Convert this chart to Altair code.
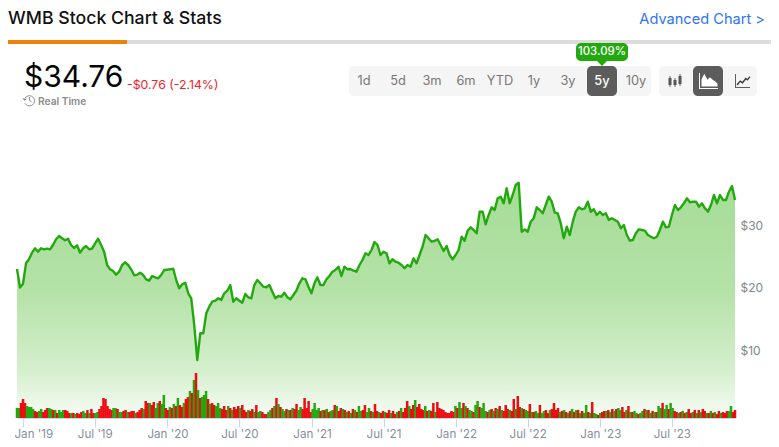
import altair as alt
import pandas as pd

FONT = "Inter"
GREEN = "#22a90e"
RED = "#f00a12"

prices = [
22.96,20.00,20.60,23.87,24.51,25.57,26.27,25.73,26.27,26.11,26.21,26.11,26.80,27.71,28.24,27.87,27.55,27.81,26.80,26.32,
26.75,25.57,26.27,26.64,26.11,26.21,27.07,27.81,26.80,25.73,23.60,22.91,22.64,22.05,22.53,23.60,24.03,23.60,22.91,21.95,
22.05,22.37,22.00,21.31,21.09,21.84,21.63,21.47,22.00,22.80,22.85,22.91,23.01,21.20,19.87,20.51,20.77,19.07,18.27,14.00,
8.40,12.67,12.67,15.87,16.93,17.73,17.89,18.27,18.00,19.07,19.49,20.40,17.73,18.27,17.89,17.57,18.96,18.43,18.27,20.40,
21.20,20.67,20.13,20.03,20.40,19.33,18.27,18.64,18.53,19.17,18.43,18.11,18.80,19.49,20.67,21.47,21.31,20.13,19.07,20.67,
21.63,20.40,20.40,21.31,21.84,22.53,22.80,23.33,21.84,23.33,22.91,22.96,22.69,22.53,23.60,24.40,25.47,25.20,26.00,27.28,
26.80,25.20,25.73,25.47,23.87,24.51,24.13,23.97,23.60,23.07,23.60,23.33,24.67,23.87,25.20,26.53,28.40,27.87,27.33,27.44,
27.71,26.80,25.84,26.64,25.20,24.51,25.20,26.00,28.13,27.49,29.09,29.63,29.20,28.67,32.13,32.13,30.11,31.60,32.83,32.40,
34.27,34.53,33.47,35.87,33.47,34.80,36.40,36.77,28.93,29.30,28.93,30.53,31.07,32.83,32.40,31.87,33.20,34.53,33.73,31.97,
31.87,30.27,27.87,29.73,28.40,30.53,32.13,32.83,32.51,32.67,33.73,32.13,32.51,31.60,32.13,31.60,31.87,30.80,31.07,30.80,
30.53,29.47,30.00,28.40,27.49,27.60,28.67,29.31,29.20,29.09,28.40,28.13,27.87,28.13,29.20,30.53,29.63,29.73,31.60,33.20,
32.40,32.83,33.47,34.27,33.63,33.73,33.73,32.93,33.47,32.67,32.13,33.20,34.80,33.47,34.80,34.00,34.00,35.33,36.24,34.00,
]

# shares traded in millions; a negative number marks a down day (red bar)
signed_volume = [
10,10,-15,-19,-15,12,11,11,9,-7,-6,7,9,-6,-8,-10,10,9,-8,8,-5,8,6,8,-8,-7,-5,5,-5,4,-5,-4,-6,7,5,-8,5,-9,
-5,5,6,-9,-12,-20,-19,-12,-9,-8,10,10,-9,6,6,-7,-8,6,-6,-7,-7,5,-6,-8,-10,9,-17,-15,15,-13,-16,10,15,-17,14,23,
-10,-8,11,-10,14,-12,20,-13,-11,15,-19,-21,27,-25,38,-45,28,-20,21,23,27,-19,14,-15,-13,12,15,10,-9,-12,-8,12,-10,8,-11,-9,
-12,10,-13,-8,-6,8,-7,-9,6,-13,6,7,-6,-4,-4,6,8,-10,12,-20,14,-11,9,7,-9,8,-8,10,-9,-14,8,11,-9,-20,-10,-17,
-6,9,15,8,10,-7,8,-8,9,-6,7,8,-13,12,-7,-10,9,-8,6,-7,5,-9,8,-6,12,7,-8,-13,6,10,-7,6,-14,-7,6,-5,
-7,6,-5,-8,5,-7,-4,6,-7,10,-6,-10,-17,12,-9,-13,18,-11,-14,-9,-8,12,-7,8,-7,-15,6,-16,-10,-9,-8,-6,-5,-5,-7,-6,
12,-10,16,10,-15,12,-10,8,7,-6,13,17,-11,10,15,7,-6,8,-9,7,-10,9,-12,8,-7,-13,-9,8,-7,-19,9,-22,-11,10,-9,8,
7,-14,6,-6,7,5,-13,5,7,-8,-5,8,-9,-15,-8,-10,6,-7,8,-6,5,-7,9,-6,8,-8,5,-7,5,13,-6,5,-16,5,4,-3,
5,-6,-7,7,-8,6,-9,7,-9,10,8,-11,-6,8,-12,6,-6,7,5,-4,5,7,-9,8,-8,5,-7,6,-6,12,10,-15,9,13,-9,15,
10,-7,-6,5,-6,7,-5,6,-9,-5,6,-8,5,-8,6,-9,-7,5,-5,7,-5,6,-4,-7,5,-6,-5,-7,7,12,-6,-8,
]

range_labels = ["1d", "5d", "3m", "6m", "YTD", "1y", "3y", "5y", "10y"]
price_ticks = [10, 20, 30]
tick_dates = [(y, m) for y in range(2019, 2024) for m in (1, 7)]
first_day = "2018-12-16"
last_day = "2023-12-08"

price_df = pd.DataFrame({
    "date": pd.date_range(first_day, last_day, periods=len(prices)).strftime("%Y-%m-%dT%H:%M:%S"),
    "price": prices,
})
vol_df = pd.DataFrame({
    "date": pd.date_range(first_day, last_day, periods=len(signed_volume)).strftime("%Y-%m-%dT%H:%M:%S"),
    "volume": [abs(v) for v in signed_volume],
    "dir": ["up" if v > 0 else "down" for v in signed_volume],
})

MARGIN = 8
X0, Y0 = 17, 118  # page position of the plot's top-left corner
ONE = alt.Data(values=[{"a": 1}])


def px(x):
    return alt.value(x - X0)


def py(y):
    return alt.value(y - Y0)


def rect(x1, x2, y1, y2, color, radius=0):
    return alt.Chart(ONE).mark_rect(color=color, cornerRadius=radius).encode(
        x=px(x1), x2=px(x2), y=py(y1), y2=py(y2))


def label(x, y, s, size, color, align="left", weight=400, font=FONT):
    return alt.Chart(ONE).mark_text(
        text=s, fontSize=size, color=color, align=align, baseline="middle",
        fontWeight=weight, font=font).encode(x=px(x), y=py(y))


def glyph(x, y, path, half, fill=None, stroke=None, sw=1.2):
    kw = dict(shape=path, size=(2 * half) ** 2, opacity=1)
    if fill:
        kw.update(filled=True, fill=fill, strokeWidth=0)
    else:
        kw.update(filled=False, stroke=stroke, strokeWidth=sw)
    return alt.Chart(ONE).mark_point(**kw).encode(x=px(x), y=py(y))


chrome = [
    label(8, 18.5, "WMB Stock Chart & Stats", 17.7, "#111111", weight=500),
    label(765, 20, "Advanced Chart >", 14.6, "#2f74f2", align="right", weight=400),
    rect(8, 771, 40, 44, "#dcdcdc"),
    rect(8, 127, 40, 44, "#ec8208"),
    label(24, 78, "$34.76", 30, "#050505", weight=400),
    label(127, 85, "-$0.76 (-2.14%)", 12.3, "#f0232b", weight=400),
    glyph(29.5, 100, "M-0.75,0.55 A0.85,0.85 0 1 0 -0.85,0 M-1.05,-0.3 L-0.85,0.05 L-0.5,-0.2 M0,-0.5 L0,0.05 L0.35,0.3", 6, stroke="#8c8c8c", sw=1),
    label(38, 101.5, "Real Time", 10.2, "#8c8c8c", weight=600),
    rect(349, 651, 66, 96, "#f5f5f5", 5),
    rect(587, 617, 66, 96, "#5c5c5c", 5),
    rect(659, 757, 66, 96, "#f5f5f5", 5),
    rect(693, 723, 66, 96, "#5c5c5c", 5),
    rect(576, 628, 43, 61, "#22a90e", 5),
    glyph(602, 63.5, "M-1,-0.5 L1,-0.5 L0,0.5 Z", 5, fill="#22a90e"),
    label(602, 52, "103.09%", 11.4, "#ffffff", align="center", weight=500),
]
for i, t in enumerate(range_labels):
    chrome.append(label(364 + 34 * i, 81, t, 12.8, "#ffffff" if t == "5y" else "#777777",
                        align="center", weight=500 if t == "5y" else 400))

# candlestick icon
chrome += [
    rect(669.5, 670.5, 76, 87, "#666666"), rect(668.5, 671.5, 78, 85, "#555555"),
    rect(674.5, 675.5, 78, 87, "#666666"), rect(673.5, 676.5, 80, 85, "#555555"),
    rect(679.5, 680.5, 74, 86, "#666666"), rect(678.5, 681.5, 76, 84, "#555555"),
]
# area icon
chrome += [
    rect(699, 700, 73, 89, "#ffffff"), rect(699, 718, 88, 89, "#ffffff"),
    glyph(709.5, 80.5, "M-1,0.75 L-1,-0.15 L-0.65,-0.85 L-0.25,-0.1 L0.05,-0.4 L0.4,-0.1 L0.7,0.1 L1,0.4 L1,0.75 Z", 8, fill="#ffffff"),
]
# line icon
chrome += [
    rect(735, 736, 74, 88, "#5e5e5e"), rect(735, 750, 87, 88, "#5e5e5e"),
    glyph(743.5, 80.5, "M-1,0.7 L-0.5,0.1 L-0.15,0.35 L0.35,-0.3 L0.6,-0.1 L1,-0.6", 6.5, stroke="#3a3a3a", sw=1.4),
]

x_enc = alt.X("date:T", title=None, scale=alt.Scale(domain=[
    alt.DateTime(year=2018, month=12, date=16), alt.DateTime(year=2023, month=12, date=8)], padding=0, nice=False),
    axis=alt.Axis(
        values=[alt.DateTime(year=y, month=m, date=1) for y, m in tick_dates],
        format="%b '%y", grid=False, domainColor="#ccd6eb", tickColor="#ccd6eb",
        tickSize=9, domainWidth=1, labelColor="#868e9e", labelFont=FONT, labelFontSize=11.6,
        labelPadding=1, labelFlush=False, labelOverlap=False,
        labelOffset={"condition": {"test": "datum.index == 0", "value": 10}, "value": 0},
    ))
price_scale = alt.Scale(domain=[-0.88, 47.12], range=[300, 0], nice=False, zero=False)
y_axis = alt.Axis(values=price_ticks, labelExpr="'$' + datum.value", domain=False, ticks=False,
                  grid=False, orient="right", labelColor="#7f8787", labelFont=FONT,
                  labelFontSize=12, labelPadding=5, title=None)

gradient = alt.Gradient(gradient="linear", x1=1, x2=1, y1=1, y2=0, stops=[
    alt.GradientStop(offset=0, color="#f8fcf7"),
    alt.GradientStop(offset=0.2, color="#d5efcd"),
    alt.GradientStop(offset=0.54, color="#b4e2a7"),
    alt.GradientStop(offset=1, color="#a6dc97"),
])

area = alt.Chart(price_df).mark_area(fill=gradient, opacity=1).encode(
    x=x_enc,
    y=alt.Y("price:Q", scale=price_scale, axis=y_axis, stack=None, title=None),
    y2=alt.value(300),
)
line = alt.Chart(price_df).mark_line(color=GREEN, strokeWidth=2.4, strokeJoin="round").encode(
    x=x_enc, y=alt.Y("price:Q", scale=price_scale, axis=None, stack=None),
)
bars = alt.Chart(vol_df).mark_bar(size=2.5).encode(
    x=x_enc,
    y=alt.Y("volume:Q", scale=alt.Scale(domain=[0, 45], range=[300, 255], nice=False), axis=None, stack=None),
    y2=alt.value(300),
    color=alt.Color("dir:N", scale=alt.Scale(domain=["up", "down"], range=[GREEN, RED]), legend=None),
)

TOTAL_W, TOTAL_H = 763, 431
chart = alt.layer(*chrome, area, bars, line).resolve_scale(y="independent", color="independent").properties(
    width=718, height=300,
    padding={"left": X0 - MARGIN, "top": Y0 - MARGIN, "right": TOTAL_W - (X0 - MARGIN) - 718,
             "bottom": TOTAL_H - (Y0 - MARGIN) - 300},
    autosize=alt.AutoSizeParams(type="none"),
    background="#ffffff",
).configure_view(stroke=None)

chart.save("out.html", embed_options={"renderer": "svg", "actions": False})
